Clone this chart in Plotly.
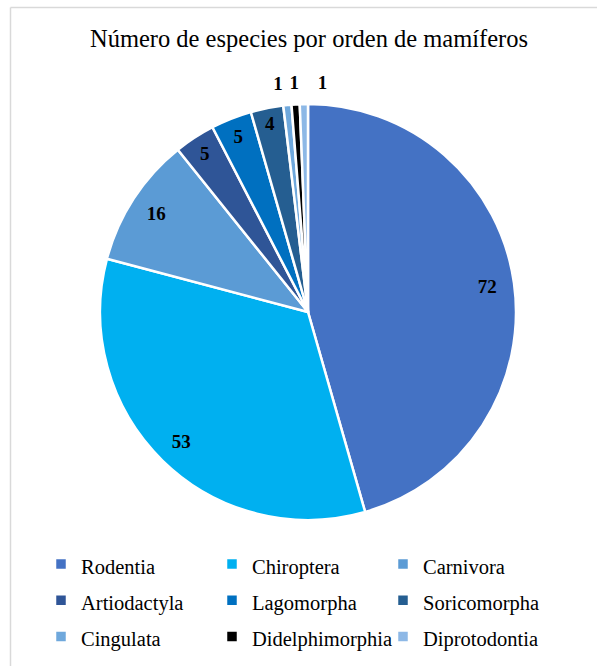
import plotly.graph_objects as go

title_text = "Número de especies por orden de mamíferos"
orders = ["Rodentia", "Chiroptera", "Carnivora", "Artiodactyla", "Lagomorpha",
          "Soricomorpha", "Cingulata", "Didelphimorphia", "Diprotodontia"]
species = [72, 53, 16, 5, 5, 4, 1, 1, 1]
colors = ["#4472C4", "#00B0F0", "#5B9BD5", "#2F5597", "#0070C0",
          "#255E91", "#6FA8DC", "#000000", "#8DB8E6"]
# which slices carry their value label on the rim (big) or just outside the pie (small)
rim_label = [True] * 6 + [False] * 3
# thin slices: label templates nudged apart with non-breaking spaces so they don't collide
outer_templates = ["", "", "", "", "", "",
                   "%{value}&nbsp;&nbsp;&nbsp;",
                   "%{value}",
                   "&nbsp;&nbsp;&nbsp;&nbsp;&nbsp;&nbsp;&nbsp;&nbsp;%{value}"]

W, H = 597, 666
cx, cy, R = 308, 312, 208
R_OUT = 234

def px_x(x):
    return x / W

def px_y(y):
    return 1 - y / H

serif = "Liberation Serif, Times New Roman, serif"

def dom(r):
    return dict(x=[px_x(cx - r), px_x(cx + r)], y=[px_y(cy + r), px_y(cy - r)])

legend_labels = [f'<span style="font-family:Liberation Serif,serif;font-size:20.5px">{o}</span>'
                 for o in orders]
clear = ["rgba(0,0,0,0)"] * len(orders)
label_font = dict(family=serif, size=19, color="black", weight="bold")

# full pie with the colours and the legend
pie_fill = go.Pie(
    labels=legend_labels,
    values=species,
    marker=dict(colors=colors, line=dict(color="white", width=2.5)),
    sort=False, direction="clockwise", rotation=0,
    textinfo="none",
    domain=dom(R),
    hovertext=orders, hoverinfo="text+value",
)

# transparent ring on top, carrying the value labels near the rim
pie_rim = go.Pie(
    labels=legend_labels,
    values=species,
    hole=0.74,
    marker=dict(colors=clear, line=dict(width=0)),
    sort=False, direction="clockwise", rotation=0,
    texttemplate=["%{value}" if b else "" for b in rim_label],
    textposition="inside",
    insidetextorientation="horizontal",
    textfont=label_font,
    domain=dom(R),
    showlegend=False, hoverinfo="skip",
)

# larger transparent ring carrying the labels of the thin slices above the pie
pie_outer = go.Pie(
    labels=legend_labels,
    values=species,
    hole=0.9,
    marker=dict(colors=clear, line=dict(width=0)),
    sort=False, direction="clockwise", rotation=0,
    texttemplate=outer_templates,
    textposition="inside",
    insidetextorientation="horizontal",
    textfont=label_font,
    domain=dom(R_OUT),
    showlegend=False, hoverinfo="skip",
)

fig = go.Figure([pie_fill, pie_rim, pie_outer])

fig.update_layout(
    width=W, height=H,
    margin=dict(l=0, r=0, t=0, b=0),
    paper_bgcolor="white",
    plot_bgcolor="white",
    font=dict(family=serif, color="black"),
    uniformtext=dict(minsize=19, mode="show"),
    title=dict(text=title_text, x=px_x(309), xanchor="center", y=px_y(38), yanchor="middle",
               xref="paper", yref="container",
               font=dict(family=serif, size=24.5, color="black")),
    showlegend=True,
    legend=dict(
        orientation="h",
        x=px_x(41), xanchor="left",
        y=px_y(541), yanchor="top",
        entrywidthmode="pixels",
        entrywidth=126,
        font=dict(family=serif, size=25.5, color="black"),
        traceorder="normal",
    ),
    shapes=[
        dict(type="line", xref="paper", yref="paper",
             x0=px_x(10.5), x1=px_x(10.5), y0=px_y(H + 5), y1=px_y(7.5),
             line=dict(color="#D9D9D9", width=1.5)),
        dict(type="line", xref="paper", yref="paper",
             x0=px_x(10.5), x1=px_x(W + 5), y0=px_y(7.5), y1=px_y(7.5),
             line=dict(color="#D9D9D9", width=1.5)),
    ],
)

fig.write_html("out.html", config={"displayModeBar": False},
               post_script="document.body.style.margin='0';")
